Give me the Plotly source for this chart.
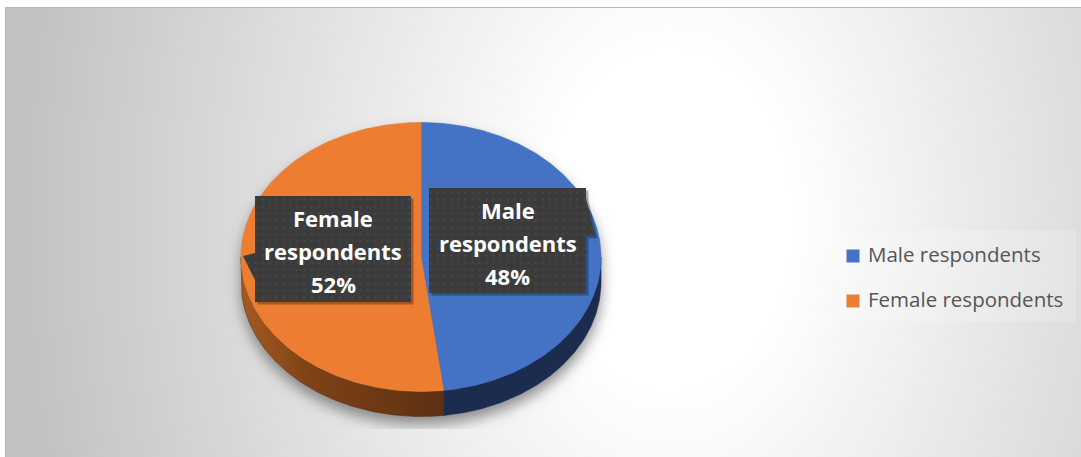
import base64
import numpy as np
import plotly.graph_objects as go

# ---- data ----
categories = ["Male respondents", "Female respondents"]
shares = [48, 52]  # percent
top_colors = ["#4472c4", "#ed7d31"]
side_colors = ["#1b2c4f", None]
side_gradients = [None, [[0, "#a45a22"], [0.35, "#7d4217"], [1, "#5c3012"]]]

# ---- page geometry (pixels, y grows downward) ----
W, H = 1081, 457
CX, CY, RX, RY, DEPTH = 421, 257, 180, 134.5, 25

# label callouts: box polygon and text line centres
label_boxes = [
    dict(poly=[(429, 188), (586, 188), (586, 198), (595, 236), (586, 236),
               (586, 293), (429, 293)],
         cx=507.5, lines_y=[210, 243, 276]),
    dict(poly=[(255, 196), (411, 196), (411, 302), (255, 302), (255, 280),
               (243, 256), (255, 253)],
         cx=333, lines_y=[218, 251, 284]),
]
legend_x, legend_y = [853, 853], [256, 301]


def ellipse_pts(t_deg, dy=0.0):
    t = np.radians(t_deg)
    return CX + RX * np.sin(t), CY - RY * np.cos(t) + dy


fig = go.Figure()

# slice angle ranges, clockwise from 12 o'clock
bounds = []
start = 0.0
for s in shares:
    bounds.append((start * 3.6, (start + s) * 3.6))
    start += s

# pie sides (front half only)
for (t0, t1), col, grad in zip(bounds, side_colors, side_gradients):
    a, b = max(t0, 90), min(t1, 270)
    if a >= b:
        continue
    ts = np.linspace(a, b, 160)
    x1, y1 = ellipse_pts(ts)
    x2, y2 = ellipse_pts(ts[::-1], DEPTH)
    xs = np.concatenate([x1, x2, x1[:1]])
    ys = np.concatenate([y1, y2, y1[:1]])
    kw = dict(fillcolor=col) if col else dict(
        fillgradient=dict(type="horizontal", colorscale=grad))
    fig.add_trace(go.Scatter(x=xs, y=ys, mode="lines", fill="toself",
                             line=dict(width=0.6, color=col or grad[-1][1]),
                             hoverinfo="skip", showlegend=False, **kw))

# pie top face
for (t0, t1), col, name in zip(bounds, top_colors, categories):
    ts = np.linspace(t0, t1, 240)
    x, y = ellipse_pts(ts)
    xs = np.concatenate([[CX], x, [CX]])
    ys = np.concatenate([[CY], y, [CY]])
    fig.add_trace(go.Scatter(x=xs, y=ys, mode="lines", fill="toself",
                             fillcolor=col, line=dict(width=0.6, color=col),
                             name=name, showlegend=False, hoverinfo="name"))

# callout boxes with dotted texture and a soft drop shadow
for box in label_boxes:
    px = [p[0] for p in box["poly"]] + [box["poly"][0][0]]
    py = [p[1] for p in box["poly"]] + [box["poly"][0][1]]
    fig.add_trace(go.Scatter(x=[v + 2.5 for v in px], y=[v + 2.5 for v in py],
                             mode="lines", fill="toself",
                             fillcolor="rgba(0,0,0,0.3)", line=dict(width=0),
                             hoverinfo="skip", showlegend=False))
    fig.add_trace(go.Scatter(x=px, y=py, mode="lines", fill="toself",
                             fillcolor="#3b3b3b",
                             fillpattern=dict(shape=".", fgcolor="#4f4f4f",
                                              bgcolor="#3b3b3b", size=7,
                                              solidity=0.12),
                             line=dict(width=0), hoverinfo="skip",
                             showlegend=False))

annotations = []
for name, share, box in zip(categories, shares, label_boxes):
    words = name.split()
    lines = [words[0], words[1], f"{share}%"]
    for txt, ly in zip(lines, box["lines_y"]):
        annotations.append(dict(
            x=box["cx"], y=ly, xref="x", yref="y", text=txt, showarrow=False,
            xanchor="center", yanchor="middle",
            font=dict(family="Open Sans", size=22, color="#ffffff", weight=700)))

# legend keys
fig.add_trace(go.Scatter(x=legend_x, y=legend_y, mode="markers",
                         marker=dict(symbol="square", size=13, color=top_colors,
                                     line=dict(width=0)),
                         hoverinfo="skip", showlegend=False))
for name, ly in zip(categories, legend_y):
    annotations.append(dict(
        x=866, y=ly - 2, xref="x", yref="y", text=name, showarrow=False,
        xanchor="left", yanchor="middle",
        font=dict(family="Open Sans", size=20.5, color="#555555")))

# background: framed radial gradient, legend panel and pie shadow
shadow_path = (f"M{CX - RX},{CY} A{RX},{RY} 0 0 1 {CX + RX},{CY} "
               f"L{CX + RX},{CY + DEPTH} A{RX},{RY} 0 0 1 {CX - RX},{CY + DEPTH} Z")
svg = f'''<svg xmlns="http://www.w3.org/2000/svg" width="{W}" height="{H}" viewBox="0 0 {W} {H}">
<defs>
<radialGradient id="bg" gradientUnits="userSpaceOnUse" cx="670" cy="220" r="650"
 gradientTransform="translate(670 220) scale(1 1.4) translate(-670 -220)">
<stop offset="0" stop-color="#ffffff"/>
<stop offset="0.18" stop-color="#ffffff"/>
<stop offset="1" stop-color="#c2c2c2"/>
</radialGradient>
<filter id="blur" x="-30%" y="-30%" width="160%" height="160%">
<feGaussianBlur stdDeviation="7"/>
</filter>
<clipPath id="clip"><rect x="215" y="60" width="415" height="369"/></clipPath>
</defs>
<rect width="{W}" height="{H}" fill="#ffffff"/>
<rect x="5.5" y="7.5" width="1090" height="470" fill="url(#bg)" stroke="#b8b8b8" stroke-width="1"/>
<rect x="838" y="230" width="238" height="92" fill="#ffffff" fill-opacity="0.18"/>
<g clip-path="url(#clip)">
<path d="{shadow_path}" fill="#6a6a6a" fill-opacity="0.75" filter="url(#blur)" transform="translate(0 8) scale(1)"/>
</g>
</svg>'''
src = "data:image/svg+xml;base64," + base64.b64encode(svg.encode()).decode()

fig.update_layout(
    width=W, height=H,
    margin=dict(l=0, r=0, t=0, b=0),
    paper_bgcolor="#ffffff", plot_bgcolor="rgba(0,0,0,0)",
    xaxis=dict(range=[0, W], visible=False, fixedrange=True),
    yaxis=dict(range=[H, 0], visible=False, fixedrange=True),
    images=[dict(source=src, xref="paper", yref="paper", x=0, y=1,
                 sizex=1, sizey=1, xanchor="left", yanchor="top",
                 sizing="stretch", layer="below")],
    annotations=annotations,
    showlegend=False,
)

fig.write_html("out.html", config={"displayModeBar": False})
